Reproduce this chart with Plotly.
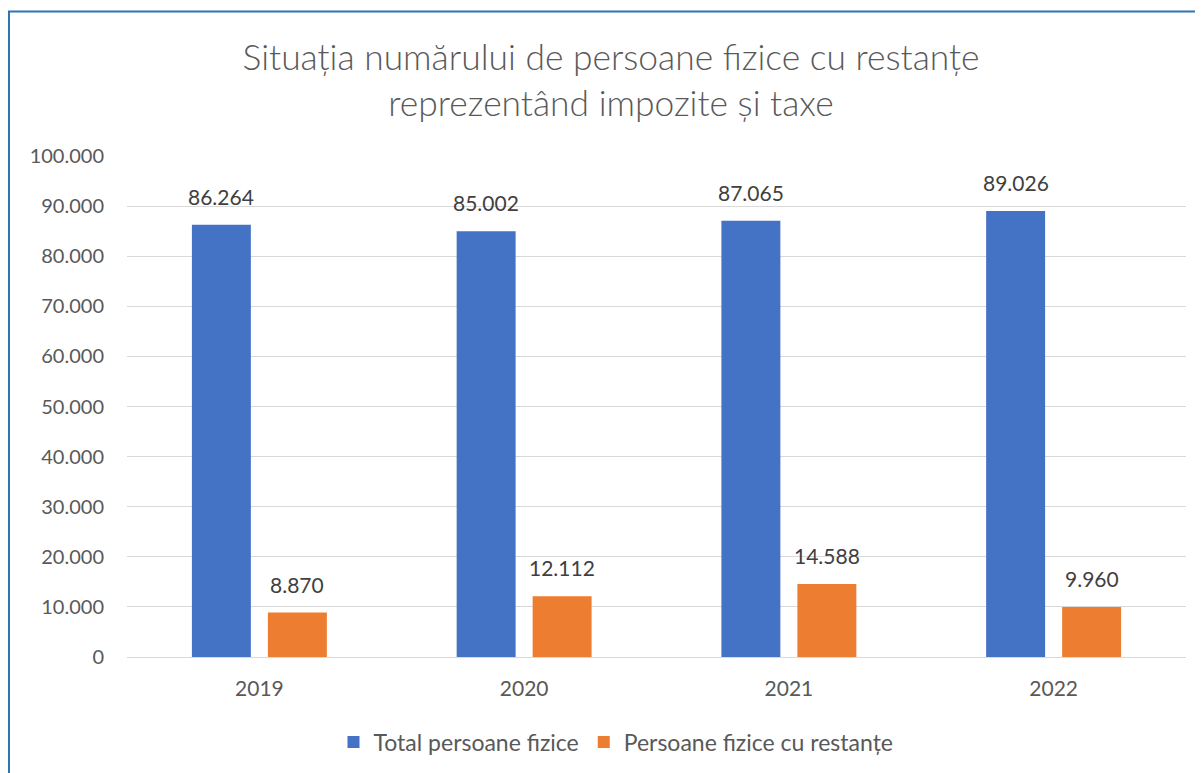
import plotly.graph_objects as go

years = ["2019", "2020", "2021", "2022"]
total = [86264, 85002, 87065, 89026]
restante = [8870, 12112, 14588, 9960]
series_names = ["Total persoane fizice", "Persoane fizice cu restanțe"]
y_ticks = [0, 10000, 20000, 30000, 40000, 50000, 60000, 70000, 80000, 90000, 100000]

FONT = "Lato, 'Open Sans', sans-serif"
OFF = 8  # browser body margin
W, H = 1195, 765
L, T = 127 - OFF, 156 - OFF
R = W - (1186 - OFF)
B = H - (657 - OFF)
pw, ph = W - L - R, H - T - B

fig = go.Figure()
fig.add_trace(go.Bar(x=years, y=total, name=series_names[0], marker=dict(color="#4472C4", line=dict(width=0))))
fig.add_trace(go.Bar(x=years, y=restante, name=series_names[1], marker=dict(color="#ED7D31", line=dict(width=0))))

annotations = []
for vals, shift in ((total, -38), (restante, 38)):
    for i, v in enumerate(vals):
        annotations.append(dict(
            x=i, y=v, xref="x", yref="y", xshift=shift, yshift=14,
            text=f"{v:,}".replace(",", "."), showarrow=False, yanchor="bottom",
            font=dict(family=FONT, size=21, color="#404040")))

def px_x(p):
    return (p - OFF - L) / pw

def px_y(p):
    return (H - B - (p - OFF)) / ph

fig.update_layout(
    width=W, height=H,
    margin=dict(l=L, r=R, t=T, b=B),
    paper_bgcolor="white", plot_bgcolor="white",
    separators=",.",
    barmode="group", bargap=0.426, bargroupgap=0.224,
    title=dict(text="Situația numărului de persoane fizice cu restanțe<br>reprezentând impozite și taxe",
               x=(611 - OFF) / W, xanchor="center", xref="container",
               y=1 - (70 - OFF) / H, yanchor="middle", yref="container",
               font=dict(family=FONT, size=35.4, color="#595959", weight=300)),
    font=dict(family=FONT, color="#595959"),
    xaxis=dict(type="category", showgrid=False, showline=False, ticks="", ticklabelstandoff=17,
               tickfont=dict(family=FONT, size=21, color="#595959")),
    yaxis=dict(range=[0, 100000], tickvals=y_ticks, tickformat=",d",
               showgrid=True, gridcolor="#D9D9D9", gridwidth=1.3,
               zeroline=True, zerolinecolor="#D9D9D9", zerolinewidth=1.3,
               showline=False, ticks="", ticklabelstandoff=22,
               tickfont=dict(family=FONT, size=20, color="#595959")),
    legend=dict(orientation="h", x=(616 - OFF) / W, xanchor="center", xref="container",
                y=1 - (742 - OFF) / H, yanchor="middle", yref="container",
                font=dict(family=FONT, size=23, color="#595959"),
                itemwidth=30, traceorder="normal"),
    annotations=annotations,
    shapes=[dict(type="rect", xref="paper", yref="paper",
                 x0=px_x(9), x1=px_x(1215), y0=px_y(790), y1=px_y(11.5),
                 line=dict(color="#2E75B6", width=2), fillcolor="rgba(0,0,0,0)", layer="below")],
)

fig.write_html("out.html")
